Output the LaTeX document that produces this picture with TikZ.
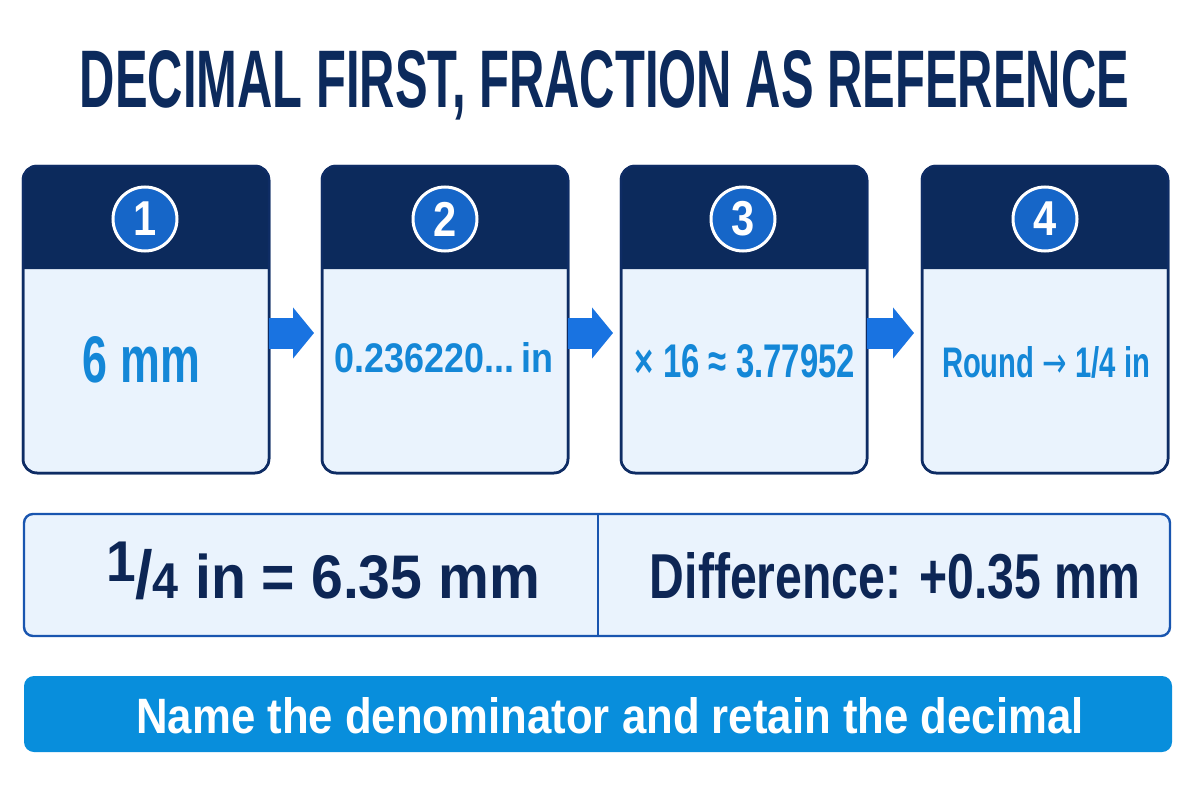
\documentclass[tikz,border=0pt]{standalone}
\usepackage{fontspec}
\setmainfont{Liberation Sans}
\newfontfamily\arrowfont{DejaVu Sans}
\usepackage{graphicx}
\usetikzlibrary{arrows.meta,calc}
\definecolor{navy}{RGB}{12,42,92}
\definecolor{cardborder}{RGB}{14,44,100}
\definecolor{cardfill}{RGB}{234,243,253}
\definecolor{circblue}{RGB}{22,102,200}
\definecolor{cardtext}{RGB}{20,135,215}
\definecolor{arrowblue}{RGB}{25,115,225}
\definecolor{boxborder}{RGB}{25,85,175}
\definecolor{boxtext}{RGB}{13,38,85}
\definecolor{barblue}{RGB}{8,142,220}
\tikzset{
  card/.style={draw=cardborder, line width=2.5pt, fill=cardfill, rounded corners=14pt,
    minimum width=246pt, minimum height=307pt, inner sep=0pt, outer sep=0pt},
  numcirc/.style={circle, fill=circblue, draw=white, line width=3pt, minimum size=64pt,
    inner sep=0pt, text=white, font=\bfseries\fontsize{49pt}{49pt}\selectfont},
  flow/.style={draw=arrowblue, line width=31pt, -{Triangle[length=21pt,width=50pt]}, shorten >=8pt},
  txt/.style={anchor=base, inner sep=0pt, outer sep=0pt},
}
\newcommand{\hdr}[1]{%
  \fill[navy] ($(#1.north west)+(0,103)$) {[rounded corners=14pt] -- (#1.north west) -- (#1.north east)} -- ($(#1.north east)+(0,103)$) -- cycle;
  \draw[cardborder, line width=2.5pt, rounded corners=14pt] (#1.north west) rectangle (#1.south east);}
\newcommand{\cnum}[1]{\scalebox{0.85}[1]{#1}}
\begin{document}
\begin{tikzpicture}[x=1pt,y=-1pt]
\useasboundingbox (0,0) rectangle (1200,800);
\fill[white] (0,0) rectangle (1200,800);

\node[txt, text=navy] (title) at (604.5,108)
  {\resizebox{1049pt}{57pt}{\bfseries DECIMAL FIRST, FRACTION AS REFERENCE}};

% cards
\node[card] (c1) at (146,319.5) {};
\node[card] (c2) at (445,319.5) {};
\node[card] (c3) at (744,319.5) {};
\node[card] (c4) at (1045,319.5) {};
\hdr{c1}\hdr{c2}\hdr{c3}\hdr{c4}

\node[numcirc] (n1) at (145,219) {\cnum{1}};
\node[numcirc] (n2) at (445,219) {\cnum{2}};
\node[numcirc] (n3) at (743,219) {\cnum{3}};
\node[numcirc] (n4) at (1045,219) {\cnum{4}};

\draw[flow] ([yshift=-13.5pt]c1.east) -- ([yshift=-13.5pt]c2.west);
\draw[flow] ([yshift=-13.5pt]c2.east) -- ([yshift=-13.5pt]c3.west);
\draw[flow] ([yshift=-13.5pt]c3.east) -- ([yshift=-13.5pt]c4.west);

\node[txt, text=cardtext] (t1) at (141.5,382) {\resizebox{117pt}{46pt}{\bfseries 6 mm}};
\node[txt, text=cardtext] (t2) at (444,372) {\resizebox{218pt}{30pt}{\bfseries 0.236220...\kern1.8pt in}};
\node[txt, text=cardtext] (t3) at (745,377) {\resizebox{220pt}{33pt}{\bfseries × 16 ≈ 3.77952}};
\node[txt, text=cardtext] (t4) at (1046,377) {\resizebox{208pt}{31pt}{\bfseries Round {\arrowfont\mdseries →} 1/4 in}};

% summary box
\node[draw=boxborder, line width=2.4pt, fill=cardfill, rounded corners=9pt,
  minimum width=1146pt, minimum height=122pt, inner sep=0pt, outer sep=0pt] (sum) at (597,575) {};
\coordinate (dv) at (598,575);
\draw[boxborder, line width=2pt] (sum.north -| dv) -- (sum.south -| dv);
\node[txt, text=boxtext] (f1) at (323.5,598) {\resizebox{433pt}{56pt}{\bfseries\fontsize{60pt}{60pt}\selectfont
  \raisebox{16pt}{\fontsize{56pt}{56pt}\selectfont 1}\kern-1pt{\fontsize{66pt}{66pt}\selectfont /}\kern-1pt{\fontsize{49pt}{49pt}\selectfont 4}\hspace{18pt}in = 6.35 mm}};
\node[txt, text=boxtext] (f2) at (895,598) {\resizebox{490pt}{46pt}{\bfseries Difference: +0.35 mm}};

% bottom bar
\node[fill=barblue, rounded corners=10pt, minimum width=1148pt, minimum height=76pt,
  inner sep=0pt, outer sep=0pt] (bar) at (598,714) {};
\node[txt, text=white] (msg) at (610,733)
  {\resizebox{947pt}{36pt}{\bfseries Name the denominator and retain the decimal}};
\end{tikzpicture}
\end{document}
